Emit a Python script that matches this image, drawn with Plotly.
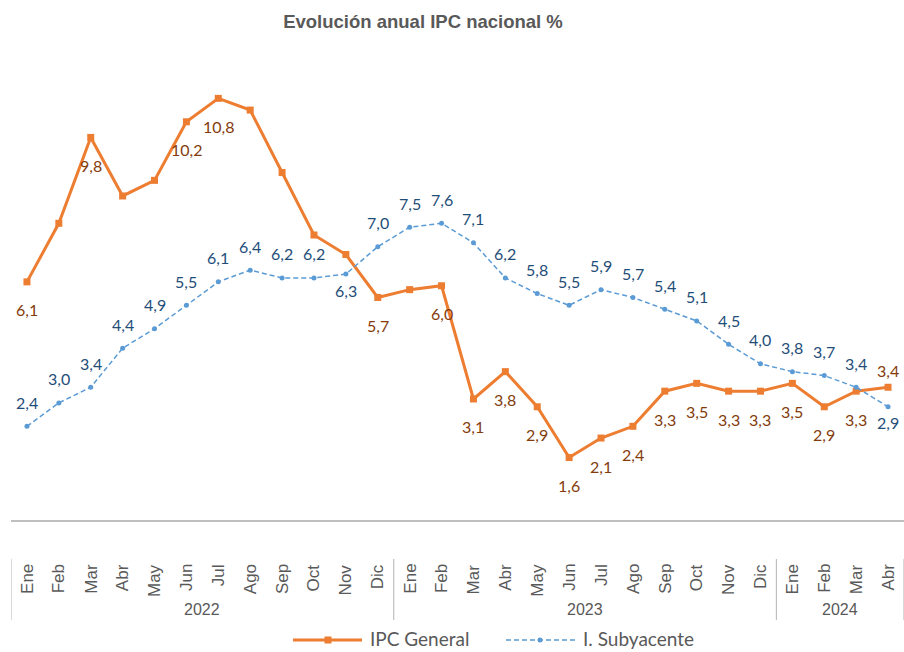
import plotly.graph_objects as go

months = ["Ene", "Feb", "Mar", "Abr", "May", "Jun", "Jul", "Ago", "Sep", "Oct", "Nov", "Dic",
          "Ene", "Feb", "Mar", "Abr", "May", "Jun", "Jul", "Ago", "Sep", "Oct", "Nov", "Dic",
          "Ene", "Feb", "Mar", "Abr"]
years = ["2022", "2023", "2024"]
year_counts = [12, 12, 4]

ipc_general = [6.1, 7.6, 9.8, 8.3, 8.7, 10.2, 10.8, 10.5, 8.9, 7.3, 6.8, 5.7,
               5.9, 6.0, 3.1, 3.8, 2.9, 1.6, 2.1, 2.4, 3.3, 3.5, 3.3, 3.3,
               3.5, 2.9, 3.3, 3.4]
subyacente = [2.4, 3.0, 3.4, 4.4, 4.9, 5.5, 6.1, 6.4, 6.2, 6.2, 6.3, 7.0,
              7.5, 7.6, 7.1, 6.2, 5.8, 5.5, 5.9, 5.7, 5.4, 5.1, 4.5, 4.0,
              3.8, 3.7, 3.4, 2.9]

# which points carry a data label (style, not data)
ipc_labelled = [True, False, True, False, False, True, True, False, False, False, False, True,
                False, True, True, True, True, True, True, True, True, True, True, True,
                True, True, True, True]
ipc_label_above = {27}
sub_label_below = {10, 27}

W, H = 904, 652
ML, MR, MT, MB = 11, 0, 32, 132
PW, PH = W - ML - MR, H - MT - MB

def px_x(px):
    return (px - ML) / PW

def px_y(py):
    return (H - MB - py) / PH

ORANGE = "#ED7D31"
BLUE = "#5B9BD5"
ORANGE_TXT = "#843C0C"
BLUE_TXT = "#1F4E79"
GRAY = "#595959"

x = list(range(len(months)))

fig = go.Figure()
fig.add_trace(go.Scatter(
    x=x, y=ipc_general, mode="lines+markers", name="IPC General",
    line=dict(color=ORANGE, width=3),
    marker=dict(symbol="square", size=7, color=ORANGE),
    showlegend=False, hoverinfo="skip"))
fig.add_trace(go.Scatter(
    x=x, y=subyacente, mode="lines+markers", name="I. Subyacente",
    line=dict(color=BLUE, width=1.5, dash="5px,3px"),
    marker=dict(symbol="circle", size=5, color=BLUE),
    showlegend=False, hoverinfo="skip"))

def fmt(v):
    return f"{v:.1f}".replace(".", ",")

annotations = []
for i, v in enumerate(ipc_general):
    if not ipc_labelled[i]:
        continue
    annotations.append(dict(x=i, y=v, xref="x", yref="y", text=fmt(v), showarrow=False,
                            yshift=17 if i in ipc_label_above else -28,
                            font=dict(family="Lato", size=16, color=ORANGE_TXT)))
for i, v in enumerate(subyacente):
    annotations.append(dict(x=i, y=v, xref="x", yref="y", text=fmt(v), showarrow=False,
                            yshift=-16 if i in sub_label_below else 24,
                            font=dict(family="Lato", size=16, color=BLUE_TXT)))

# month tick labels
for i, m in enumerate(months):
    annotations.append(dict(x=i, y=px_y(562), xref="x", yref="paper", text=m, showarrow=False,
                            textangle=-90, yanchor="top", xanchor="center",
                            font=dict(family="Liberation Sans", size=17, color=GRAY)))

shapes = []
start = -0.5
bounds = [start]
for yr, n in zip(years, year_counts):
    end = start + n
    annotations.append(dict(x=(start + end) / 2, y=px_y(609), xref="x", yref="paper", text=yr,
                            showarrow=False, yanchor="middle",
                            font=dict(family="Liberation Sans", size=16, color=GRAY)))
    bounds.append(end)
    start = end
for b in bounds:
    shapes.append(dict(type="line", xref="x", yref="paper", x0=b, x1=b,
                       y0=px_y(559), y1=px_y(620), line=dict(color="#bfbfbf", width=1.2)))

# custom legend
LEG_Y = 640
TXT_Y = 638.5
shapes.append(dict(type="line", xref="paper", yref="paper", x0=px_x(293), x1=px_x(362),
                   y0=px_y(LEG_Y), y1=px_y(LEG_Y), line=dict(color=ORANGE, width=3)))
shapes.append(dict(type="rect", xref="paper", yref="paper", x0=px_x(324.5), x1=px_x(331.5),
                   y0=px_y(LEG_Y + 3.5), y1=px_y(LEG_Y - 3.5), fillcolor=ORANGE, line=dict(width=0)))
shapes.append(dict(type="line", xref="paper", yref="paper", x0=px_x(506), x1=px_x(575),
                   y0=px_y(LEG_Y), y1=px_y(LEG_Y), line=dict(color=BLUE, width=1.5, dash="5px,3px")))
shapes.append(dict(type="circle", xref="paper", yref="paper", x0=px_x(537.5), x1=px_x(542.5),
                   y0=px_y(LEG_Y + 2.5), y1=px_y(LEG_Y - 2.5), fillcolor=BLUE, line=dict(width=0)))
annotations.append(dict(x=px_x(369), y=px_y(TXT_Y), xref="paper", yref="paper", text="IPC General",
                        showarrow=False, xanchor="left", yanchor="middle", borderpad=0,
                        font=dict(family="Lato", size=19, color=GRAY)))
annotations.append(dict(x=px_x(582), y=px_y(TXT_Y), xref="paper", yref="paper", text="I. Subyacente",
                        showarrow=False, xanchor="left", yanchor="middle", borderpad=0,
                        font=dict(family="Lato", size=19, color=GRAY)))

fig.update_layout(
    width=W, height=H,
    margin=dict(l=ML, r=MR, t=MT, b=MB),
    paper_bgcolor="white", plot_bgcolor="white",
    title=dict(text="<b>Evolución anual IPC nacional %</b>", x=423 / W, xref="container",
               xanchor="center", y=1 - 22 / H, yref="container", yanchor="middle",
               font=dict(family="Liberation Sans", size=18.5, color=GRAY)),
    xaxis=dict(range=[-0.5, len(months) - 0.5], showticklabels=False, showgrid=False,
               zeroline=False, showline=True, linecolor="#bfbfbf", linewidth=1.5, ticks=""),
    yaxis=dict(range=[0, 12.5], visible=False, showgrid=False, zeroline=False),
    annotations=annotations, shapes=shapes,
    showlegend=False,
)

fig.write_html("out.html", config={"displayModeBar": False},
               post_script="document.body.style.margin='0';document.body.style.overflow='hidden';")
